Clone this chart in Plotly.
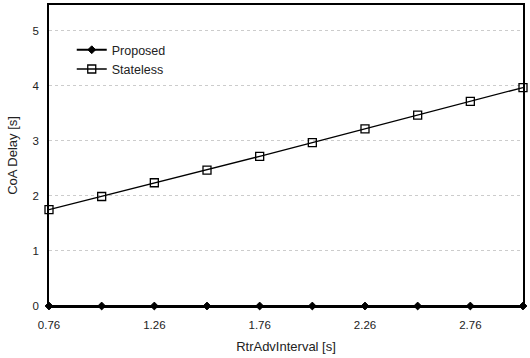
import plotly.graph_objects as go

x_vals = [0.76, 1.01, 1.26, 1.51, 1.76, 2.01, 2.26, 2.51, 2.76, 3.01]
proposed = [0.0, 0.0, 0.0, 0.0, 0.0, 0.0, 0.0, 0.0, 0.0, 0.0]
stateless = [1.75, 1.99, 2.24, 2.47, 2.72, 2.97, 3.22, 3.47, 3.72, 3.97]
x_ticks = [0.76, 1.26, 1.76, 2.26, 2.76]
y_ticks = [0, 1, 2, 3, 4, 5]

fig = go.Figure()
fig.add_trace(go.Scatter(
    x=x_vals, y=proposed, name="Proposed", mode="lines+markers",
    line=dict(color="black", width=2.2),
    marker=dict(symbol="diamond", size=6, color="black", line=dict(color="black", width=1)),
    cliponaxis=False,
))
fig.add_trace(go.Scatter(
    x=x_vals, y=stateless, name="Stateless", mode="lines+markers",
    line=dict(color="black", width=1.3),
    marker=dict(symbol="square-open", size=8, color="black", line=dict(color="black", width=1.3)),
    cliponaxis=False,
))

font = dict(family="Liberation Sans, Arial, sans-serif", size=11, color="#222")
fig.update_layout(
    width=530, height=358,
    margin=dict(l=49, r=7, t=5, b=52, autoexpand=False),
    paper_bgcolor="white", plot_bgcolor="white",
    font=font,
    showlegend=True,
    legend=dict(x=0.048, y=0.90, xanchor="left", yanchor="top",
                bgcolor="rgba(0,0,0,0)", font=dict(size=12.5, color="#222"),
                itemwidth=30, tracegroupgap=0),
)
fig.update_xaxes(
    range=[0.76, 3.01], tickvals=x_ticks, ticktext=[f"{v:.2f}" for v in x_ticks],
    showline=True, linecolor="black", linewidth=1.5, mirror=True,
    showgrid=False, zeroline=False, ticks="", automargin=False,
    tickfont=dict(size=11.5), ticklabelstandoff=7,
    title=dict(text="RtrAdvInterval [s]", standoff=12, font=dict(size=13)),
)
fig.update_yaxes(
    range=[0, 5.47], tickvals=y_ticks,
    showline=True, linecolor="black", linewidth=1.5, mirror=True,
    showgrid=True, gridcolor="#ccc", griddash="dot", gridwidth=1,
    zeroline=False, ticks="", automargin=False,
    tickfont=dict(size=11.5), ticklabelstandoff=6,
    title=dict(text="CoA Delay [s]", standoff=12, font=dict(size=13)),
)

fig.write_html("out.html", config={"displayModeBar": False},
               post_script="document.body.style.margin='0';")
